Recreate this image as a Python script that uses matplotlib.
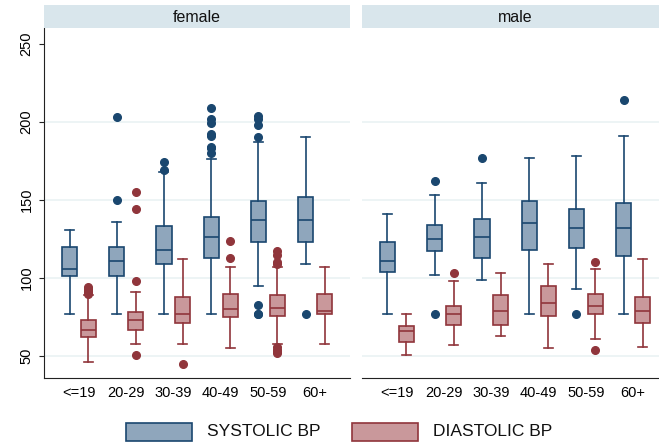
import matplotlib
matplotlib.use("Agg")
import matplotlib.pyplot as plt
from matplotlib.patches import Rectangle

plt.rcParams['font.family'] = ['Liberation Sans', 'DejaVu Sans']

age_groups = ['<=19', '20-29', '30-39', '40-49', '50-59', '60+']
panels = ['female', 'male']

# five-number summaries per age group: whisker low, q1, median, q3, whisker high
female_sys = [(77, 101, 106, 120, 131), (77, 101, 111, 120, 136), (77, 109, 118, 133, 168),
              (77, 113, 126, 139, 176), (95, 123, 137, 149, 187), (109, 123, 137, 152, 190)]
female_sys_out = [[], [150, 203], [169, 174], [180, 183, 184, 191, 192, 199, 202, 209],
                  [77, 77, 83, 190, 198, 202, 204], [77]]
female_dia = [(46, 62, 67, 73, 89), (58, 67, 73, 78, 91), (58, 71, 77, 88, 112),
              (55, 75, 80, 90, 107), (58, 76, 81, 89, 107), (58, 77, 79, 90, 107)]
female_dia_out = [[90, 91, 92, 93, 94], [51, 98, 144, 155], [45], [113, 124],
                  [52, 53, 54, 56, 109, 110, 115, 117], []]

male_sys = [(77, 104, 111, 123, 141), (102, 117, 125, 134, 153), (99, 113, 126, 138, 161),
            (77, 118, 135, 149, 177), (93, 119, 132, 144, 178), (77, 114, 132, 148, 191)]
male_sys_out = [[], [77, 162], [177], [], [77], [214]]
male_dia = [(51, 59, 66, 69, 77), (57, 70, 77, 82, 98), (63, 70, 79, 89, 103),
            (55, 76, 84, 95, 109), (61, 77, 82, 90, 106), (56, 71, 79, 88, 112)]
male_dia_out = [[], [103], [], [], [54, 110], []]

sys_edge, sys_face = '#1a476f', '#8fa6bc'
dia_edge, dia_face = '#90353b', '#c9989b'
grid_col = '#eaf2f3'
header_col = '#d9e6ec'


def make_stats(summ, outs):
    stats = []
    for (lo, q1, med, q3, hi), fl in zip(summ, outs):
        stats.append({'whislo': lo, 'q1': q1, 'med': med, 'q3': q3, 'whishi': hi, 'fliers': fl})
    return stats


def draw(ax, summ, outs, pos, edge, face):
    ax.bxp(make_stats(summ, outs), positions=pos, widths=0.32, capwidths=0.19,
           patch_artist=True, showfliers=True,
           boxprops=dict(facecolor=face, edgecolor=edge, linewidth=1.2),
           medianprops=dict(color=edge, linewidth=1.2),
           whiskerprops=dict(color=edge, linewidth=1.2),
           capprops=dict(color=edge, linewidth=1.2),
           flierprops=dict(marker='o', markersize=5.5, markerfacecolor=edge,
                           markeredgecolor=edge, linestyle='none'))


fig = plt.figure(figsize=(6.59, 4.46), dpi=100)
W, H = 659, 446

data = {'female': (female_sys, female_sys_out, female_dia, female_dia_out),
        'male': (male_sys, male_sys_out, male_dia, male_dia_out)}
lefts = [44, 362]

for name, left in zip(panels, lefts):
    ax = fig.add_axes([left / W, (H - 378) / H, 306 / W, 350 / H])
    hdr = fig.add_axes([left / W, (H - 28) / H, 306 / W, 23 / H])
    hdr.set_facecolor(header_col)
    hdr.set_xticks([])
    hdr.set_yticks([])
    for s in hdr.spines.values():
        s.set_visible(False)
    hdr.text(0.5, 0.45, name, ha='center', va='center', fontsize=11.5, color='#111111',
             transform=hdr.transAxes)

    ss, so, ds, do = data[name]
    idx = list(range(len(age_groups)))
    for g in [50, 100, 150, 200]:
        ax.axhline(g, color=grid_col, lw=1.2, zorder=0)
    draw(ax, ss, so, [i - 0.2 for i in idx], sys_edge, sys_face)
    draw(ax, ds, do, [i + 0.2 for i in idx], dia_edge, dia_face)

    ax.set_xlim(-0.74, 5.74)
    ax.set_ylim(36, 260)
    ax.set_xticks(idx)
    ax.set_xticklabels(age_groups, fontsize=10.5)
    ax.tick_params(axis='x', length=0, pad=6)
    ax.spines['top'].set_visible(False)
    ax.spines['right'].set_visible(False)
    ax.spines['bottom'].set_color('#222222')
    if name == 'female':
        ax.set_yticks([50, 100, 150, 200, 250])
        ax.set_yticklabels(['50', '100', '150', '200', '250'], fontsize=10.5,
                           rotation=90, va='center')
        ax.tick_params(axis='y', length=3.5, pad=4, color='#222222')
        ax.spines['left'].set_color('#222222')
    else:
        ax.set_yticks([])
        ax.spines['left'].set_visible(False)

# legend
for x0, face, edge, label in [(126, sys_face, sys_edge, 'SYSTOLIC BP'),
                              (352, dia_face, dia_edge, 'DIASTOLIC BP')]:
    fig.patches.append(Rectangle((x0 / W, (H - 441) / H), 66 / W, 18 / H,
                                 facecolor=face, edgecolor=edge, linewidth=1.2,
                                 transform=fig.transFigure, figure=fig))
    fig.text((x0 + 81) / W, (H - 432) / H, label, fontsize=12.5, va='center', ha='left',
             color='#111111')

fig.savefig('out.png', dpi=100)
